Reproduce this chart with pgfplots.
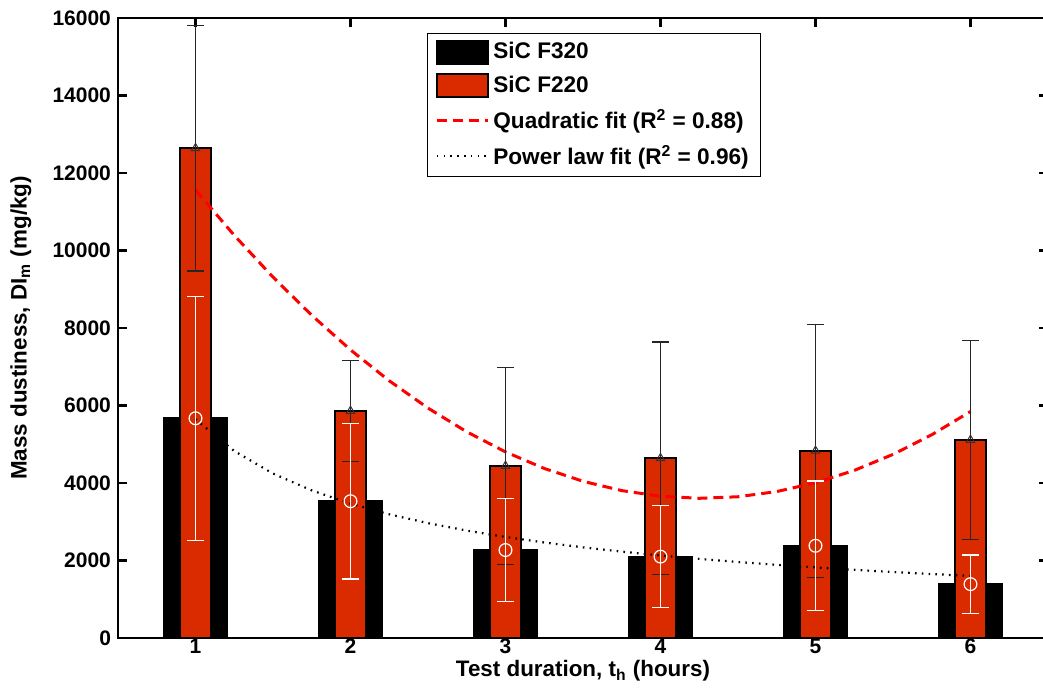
\documentclass[border=0pt]{standalone}
\usepackage{pgfplots}
\pgfplotsset{compat=1.18}
\usepackage{fontspec}
\setmainfont{Liberation Sans}
\definecolor{barred}{RGB}{218,42,0}
\pgfplotsset{
  barlegend/.style={legend image code/.code={\draw[##1] (0pt,-5.75pt) rectangle (25.5pt,5.75pt);}},
  linelegend/.style={legend image code/.code={\draw[##1] (0pt,0pt) -- (25.5pt,0pt);}},
}
\begin{document}
\begin{tikzpicture}
\begin{axis}[
  scale only axis, width=465pt, height=310pt,
  xmin=0.5, xmax=6.5, ymin=0, ymax=16000,
  xtick={1,2,3,4,5,6},
  ytick={0,2000,4000,6000,8000,10000,12000,14000,16000},
  scaled y ticks=false,
  /pgf/number format/1000 sep={},
  /pgf/number format/assume math mode=true,
  tick align=inside, major tick length=4.5pt,
  tick style={line width=1.1pt, black},
  axis line style={line width=1.2pt},
  ticklabel style={font=\fontsize{10.5}{12}\selectfont\bfseries},
  label style={font=\fontsize{11.2}{13}\selectfont\bfseries},
  xticklabel style={anchor=base, yshift=-8pt},
  xlabel={Test duration, t\textsubscript{h} (hours)},
  ylabel={Mass dustiness, DI\textsubscript{m} (mg/kg)},
  xlabel style={at={(axis description cs:0.5,0)}, anchor=base, yshift=-19.5pt},
  ylabel style={at={(axis description cs:-0.1043,0.5)}, anchor=center},
  legend style={draw=black, line width=0.6pt, at={(axis description cs:0.332,0.976)}, anchor=north west,
    font=\fontsize{11.3}{13}\selectfont\bfseries, inner xsep=4pt, inner ysep=2.5pt, row sep=3pt,
    cells={anchor=west}},
  legend cell align=left,
]
% SiC F320 bars
\addplot[ybar, bar width=0.41, bar shift=0pt, fill=black, draw=black, line width=1pt, barlegend]
  coordinates {(1,5670) (2,3530) (3,2270) (4,2100) (5,2380) (6,1390)};
\addlegendentry{SiC F320}
% SiC F220 bars
\addplot[ybar, bar width=0.195, bar shift=0pt, fill=barred, draw=black, line width=1pt, barlegend]
  coordinates {(1,12640) (2,5860) (3,4440) (4,4640) (5,4830) (6,5110)};
\addlegendentry{SiC F220}
% Quadratic fit
\addplot[red, line width=1.5pt, dash pattern=on 5pt off 3pt, linelegend] coordinates {
 (1,11562) (1.25,10391) (1.5,9313) (1.75,8328) (2,7436) (2.25,6638) (2.5,5933) (2.75,5321)
 (3,4802) (3.25,4376) (3.5,4044) (3.75,3804) (4,3658) (4.25,3605) (4.5,3645) (4.75,3779)
 (5,4006) (5.25,4325) (5.5,4738) (5.75,5245) (6,5844)};
\addlegendentry{Quadratic fit (R\textsuperscript{2} = 0.88)}
% Power law fit
\addplot[black, line width=1.1pt, dash pattern=on 0.8pt off 2.6pt, linelegend] coordinates {
 (1,5644) (1.25,4825) (1.5,4244) (1.75,3809) (2,3467) (2.25,3192) (2.5,2964) (2.75,2772)
 (3,2607) (3.25,2465) (3.5,2339) (3.75,2229) (4,2130) (4.25,2041) (4.5,1961) (4.75,1887)
 (5,1821) (5.25,1759) (5.5,1703) (5.75,1650) (6,1602)};
\addlegendentry{Power law fit (R\textsuperscript{2} = 0.96)}
% F220 error bars (black)
\addplot[forget plot, only marks, mark=triangle, mark size=2.4pt, mark options={black!80, line width=0.5pt},
  error bars/.cd, y dir=both, y explicit,
  error bar style={line width=0.6pt, black!85},
  error mark options={rotate=90, mark size=4.25pt, line width=0.6pt, black!85}]
  coordinates {(1,12640) +- (0,3170) (2,5860) +- (0,1300) (3,4440) +- (0,2550)
               (4,4640) +- (0,3000) (5,4830) +- (0,3270) (6,5110) +- (0,2570)};
% F320 error bars (white)
\addplot[forget plot, only marks, mark=o, mark size=3.2pt, mark options={white, line width=0.6pt},
  error bars/.cd, y dir=both, y explicit,
  error bar style={line width=0.6pt, white},
  error mark options={rotate=90, mark size=4.25pt, line width=0.6pt, white}]
  coordinates {(1,5670) +- (0,3150) (2,3530) +- (0,2010) (3,2270) +- (0,1320)
               (4,2100) +- (0,1320) (5,2380) +- (0,1670) (6,1390) +- (0,750)};
\end{axis}
\pgfresetboundingbox
\path (-59pt,-31pt) rectangle (462.5pt,319pt);
\end{tikzpicture}
\end{document}
